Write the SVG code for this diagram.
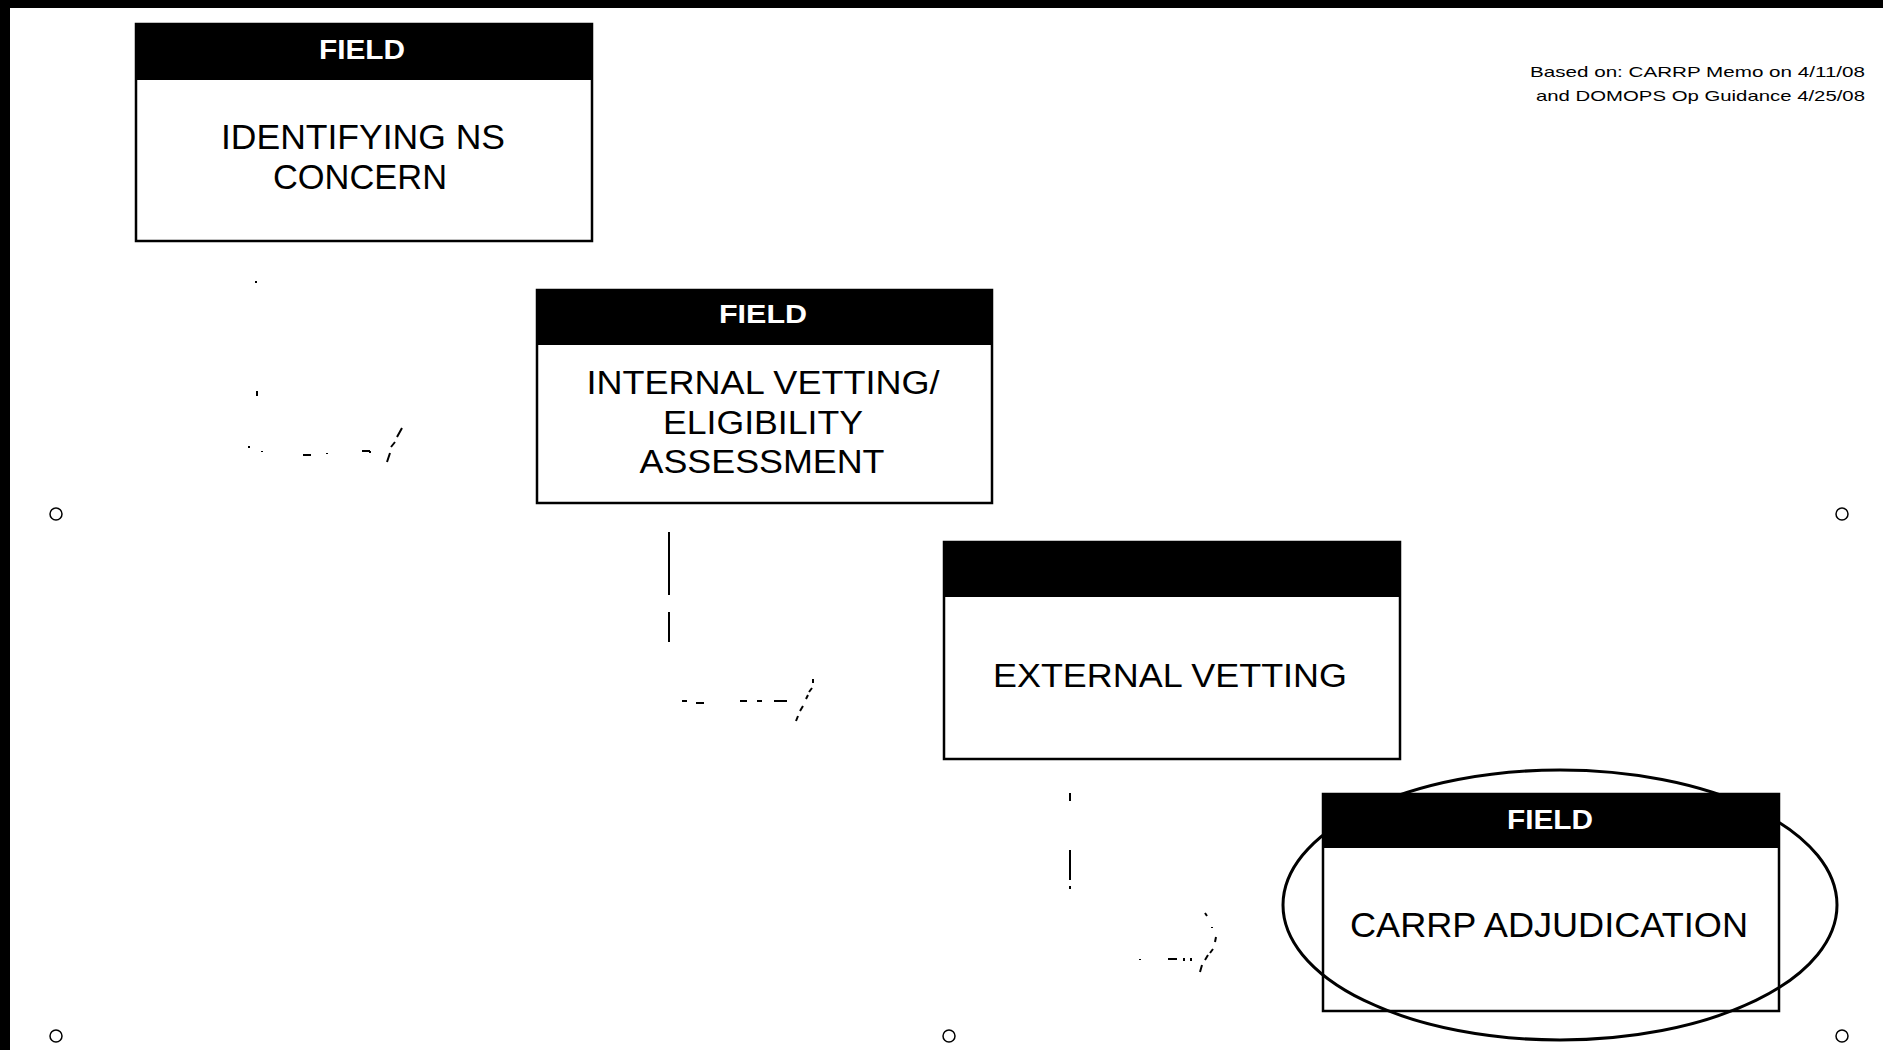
<svg xmlns="http://www.w3.org/2000/svg" width="1883" height="1050" viewBox="0 0 1883 1050">
<style>
.box{fill:#fff;stroke:#000;stroke-width:2.5}
.hdr{fill:#000}
.ht{font-family:"Liberation Sans",Arial,sans-serif;font-weight:bold;fill:#fff;text-anchor:middle}
.bt{font-family:"Liberation Sans",Arial,sans-serif;fill:#000;text-anchor:middle}
.note{font-family:"Liberation Sans",Arial,sans-serif;fill:#000;font-size:15px;text-anchor:end}
.con{fill:none;stroke:#000;stroke-width:2}
.dot{fill:none;stroke:#000;stroke-width:1.5}
</style>
<rect x="0" y="0" width="1883" height="1050" fill="#fff"/>
<rect x="0" y="0" width="1883" height="8" fill="#000"/>
<rect x="0" y="0" width="10" height="1050" fill="#000"/>

<g id="note">
<text class="note" x="1865" y="77" textLength="335" lengthAdjust="spacingAndGlyphs">Based on: CARRP Memo on 4/11/08</text>
<text class="note" x="1865" y="101" textLength="329" lengthAdjust="spacingAndGlyphs">and DOMOPS Op Guidance 4/25/08</text>
</g>

<g id="connectors">
<path class="con" d="M256 281v2M257 391v5M249 446v2M262 451v1M303 455h8M327 453v1M362 451h8M370 451v2"/>
<path class="con" d="M387 462l3-9M391 447l4-5M397 437l5-9"/>
<path class="con" d="M669 532v63M669 612v30"/>
<path class="con" d="M682 701h5M696 703h8M740 701h7M757 701h5M774 701h13"/>
<path class="con" d="M796 721l2-5M800 711l3-5M806 699l2-4M809 692l3-4M813 683v-4"/>
<path class="con" d="M1070 793v8M1070 850v30M1070 886v3"/>
<path class="con" d="M1140 959v1M1168 959h9M1184 958v3M1191 958v3"/>
<path class="con" d="M1200 972l2-7M1205 960l3-5M1210 953l3-4M1215 942l1-5M1212 927v1M1205 913l2 3"/>
</g>

<g id="node1">
<rect class="box" x="136" y="24" width="456" height="217"/>
<rect class="hdr" x="136" y="24" width="456" height="56"/>
<text class="ht" x="362" y="59" font-size="27" textLength="86" lengthAdjust="spacingAndGlyphs">FIELD</text>
<text class="bt" x="363" y="149" font-size="35" textLength="284" lengthAdjust="spacingAndGlyphs">IDENTIFYING NS</text>
<text class="bt" x="360" y="189" font-size="35" textLength="174" lengthAdjust="spacingAndGlyphs">CONCERN</text>
</g>

<g id="node2">
<rect class="box" x="537" y="290" width="455" height="213"/>
<rect class="hdr" x="537" y="290" width="455" height="55"/>
<text class="ht" x="763" y="323" font-size="26" textLength="88" lengthAdjust="spacingAndGlyphs">FIELD</text>
<text class="bt" x="763" y="394" font-size="34" textLength="353" lengthAdjust="spacingAndGlyphs">INTERNAL VETTING/</text>
<text class="bt" x="763" y="434" font-size="34" textLength="200" lengthAdjust="spacingAndGlyphs">ELIGIBILITY</text>
<text class="bt" x="762" y="473" font-size="34" textLength="245" lengthAdjust="spacingAndGlyphs">ASSESSMENT</text>
</g>

<g id="node3">
<rect class="box" x="944" y="542" width="456" height="217"/>
<rect class="hdr" x="944" y="542" width="456" height="55"/>
<text class="bt" x="1170" y="687" font-size="33" textLength="354" lengthAdjust="spacingAndGlyphs">EXTERNAL VETTING</text>
</g>

<g id="node4">
<rect class="box" x="1323" y="794" width="456" height="217"/>
<rect class="hdr" x="1323" y="794" width="456" height="54"/>
<text class="ht" x="1550" y="829" font-size="27" textLength="86" lengthAdjust="spacingAndGlyphs">FIELD</text>
<text class="bt" x="1549" y="937" font-size="35" textLength="398" lengthAdjust="spacingAndGlyphs">CARRP ADJUDICATION</text>
</g>

<g id="highlight">
<ellipse cx="1560" cy="905" rx="277" ry="135" fill="none" stroke="#000" stroke-width="3"/>
</g>

<g id="marks">
<circle class="dot" cx="56" cy="514" r="6"/>
<circle class="dot" cx="1842" cy="514" r="6"/>
<circle class="dot" cx="56" cy="1036" r="6"/>
<circle class="dot" cx="949" cy="1036" r="6"/>
<circle class="dot" cx="1842" cy="1036" r="6"/>
</g>
</svg>
